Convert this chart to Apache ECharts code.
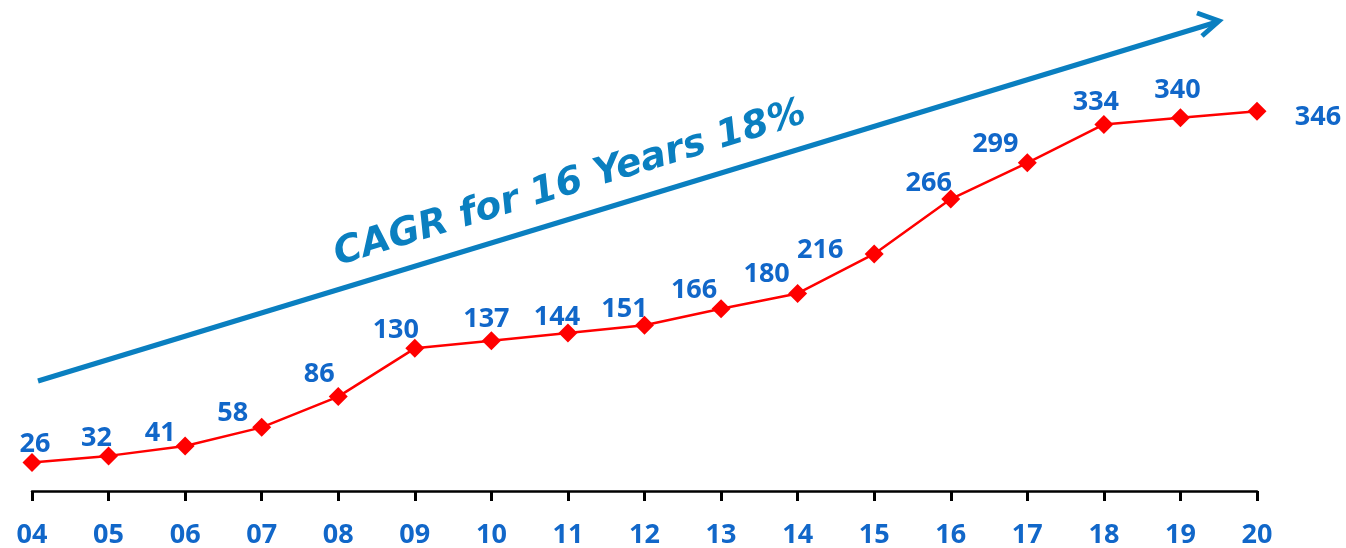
<!DOCTYPE html>
<html lang="en">
<head>
    <meta charset="UTF-8">
    <title>CAGR</title>
    <script src="https://cdn.jsdelivr.net/npm/echarts@6/dist/echarts.min.js"></script>
    <style>
        html, body { margin: 0; padding: 0; background: #fff; }
    </style>
</head>
<body>
    <div id="main" style="width: 1346px; height: 548px;"></div>
    <script type="text/javascript">
        // years along the bottom
        var years = ['04','05','06','07','08','09','10','11','12','13','14','15','16','17','18','19','20'];
        // values per year
        var values = [26, 32, 41, 58, 86, 130, 137, 144, 151, 166, 180, 216, 266, 299, 334, 340, 346];
        // label nudges (px from the marker centre) so labels sit like the original
        var labelNudge = [
            [3, -18], [-12, -18], [-25, -13], [-29, -14], [-19, -22], [-19, -18], [-5, -21], [-11, -16],
            [-20, -16], [-27, -19], [-31, -19], [-54, -4], [-22, -16], [-32, -19], [-8, -22], [-3, -28], [61, 6]
        ];

        var chart = echarts.init(document.getElementById('main'));
        var blue = '#1167c9';
        var arrowBlue = '#0a7fc0';

        var seriesData = values.map(function (v, i) {
            return { value: v, label: { offset: labelNudge[i] } };
        });

        var option = {
            animation: false,
            grid: { left: 32, right: 89, top: 52, bottom: 57, outerBoundsMode: 'none', containLabel: false },
            xAxis: {
                type: 'category',
                data: years,
                boundaryGap: false,
                axisLine: { lineStyle: { color: '#000', width: 2.5 } },
                axisTick: { alignWithLabel: true, length: 10, lineStyle: { color: '#000', width: 3 } },
                axisLabel: {
                    color: blue, fontSize: 27, fontWeight: 'bold',
                    fontFamily: 'Open Sans', margin: 31
                },
                splitLine: { show: false }
            },
            yAxis: {
                type: 'value', min: 0, max: 400,
                show: false
            },
            series: [{
                type: 'line',
                data: seriesData,
                symbol: 'diamond',
                symbolSize: 19,
                itemStyle: { color: '#ff0000' },
                lineStyle: { color: '#ff0000', width: 2.5 },
                label: {
                    show: true, position: 'inside',
                    color: blue, fontSize: 27, fontWeight: 'bold', fontFamily: 'Open Sans'
                }
            }],
            graphic: [
                {
                    type: 'line',
                    shape: { x1: 38, y1: 381, x2: 1217, y2: 22 },
                    style: { stroke: arrowBlue, lineWidth: 5 }
                },
                {
                    type: 'polyline',
                    shape: { points: [[1197, 13], [1219, 21], [1202, 36]] },
                    style: { stroke: arrowBlue, lineWidth: 5, fill: null, lineJoin: 'miter' }
                },
                {
                    type: 'text',
                    x: 570, y: 184,
                    rotation: 17 * Math.PI / 180,
                    style: {
                        text: 'CAGR for 16 Years 18%',
                        fill: arrowBlue,
                        font: 'oblique bold 38px "DejaVu Sans"',
                        textAlign: 'center',
                        textVerticalAlign: 'middle'
                    }
                }
            ]
        };
        chart.setOption(option);
    </script>
</body>
</html>
